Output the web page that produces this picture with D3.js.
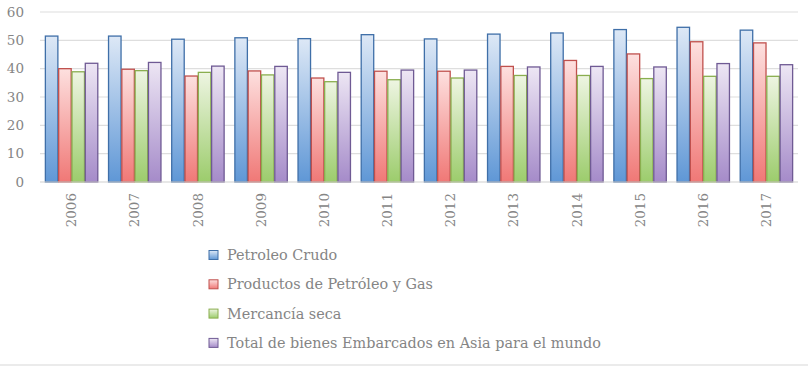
<!DOCTYPE html>
<html>
<head>
<meta charset="utf-8">
<script src="https://cdn.jsdelivr.net/npm/d3@7"></script>
<style>
  body { margin: 0; background: #fff; }
  text { font-family: "DejaVu Serif", "Liberation Serif", serif; fill: #858585; }
</style>
</head>
<body>
<script>
let w = 808;
let h = 366;

let years = ["2006", "2007", "2008", "2009", "2010", "2011", "2012", "2013", "2014", "2015", "2016", "2017"];
let seriesNames = ["Petroleo Crudo", "Productos de Petróleo y Gas", "Mercancía seca", "Total de bienes Embarcados en Asia para el mundo"];
let crudo = [51.5, 51.5, 50.4, 50.9, 50.6, 52.0, 50.5, 52.2, 52.6, 53.8, 54.6, 53.6];
let productos = [40.0, 39.8, 37.4, 39.2, 36.7, 39.1, 39.1, 40.8, 42.9, 45.2, 49.5, 49.1];
let seca = [38.9, 39.3, 38.7, 37.8, 35.4, 36.1, 36.7, 37.6, 37.6, 36.5, 37.3, 37.3];
let total = [41.9, 42.2, 40.9, 40.8, 38.7, 39.5, 39.5, 40.6, 40.8, 40.6, 41.8, 41.4];
let yTicks = [0, 10, 20, 30, 40, 50, 60];

let allSeries = [crudo, productos, seca, total];
let colors = [
  { top: "#dde8f6", bottom: "#5f97d6", stroke: "#3f6fa8" },
  { top: "#fde0df", bottom: "#f07876", stroke: "#c0504d" },
  { top: "#eef5e2", bottom: "#9ccc6c", stroke: "#8aae4f" },
  { top: "#ede6f4", bottom: "#a58bc9", stroke: "#6f5a94" }
];

let xScale = d3.scaleBand().domain(years).range([40, 798]).paddingInner(0.17).paddingOuter(0.085);
let xSub = d3.scaleBand().domain(d3.range(4)).range([0, xScale.bandwidth()]).paddingInner(0.06);
let yScale = d3.scaleLinear().domain([0, 60]).range([182, 12]);

let svg = d3.select("body").append("svg").attr("width", w).attr("height", h);

let defs = svg.append("defs");
colors.forEach((c, i) => {
  let g = defs.append("linearGradient").attr("id", "grad" + i)
    .attr("x1", 0).attr("y1", 0).attr("x2", 0).attr("y2", 1);
  g.append("stop").attr("offset", "0%").attr("stop-color", c.top);
  g.append("stop").attr("offset", "100%").attr("stop-color", c.bottom);
});

// grid lines
svg.append("g").selectAll("line")
  .data(yTicks.slice(1))
  .enter().append("line")
  .attr("x1", 40).attr("x2", 798)
  .attr("y1", d => yScale(d)).attr("y2", d => yScale(d))
  .attr("stroke", "#dedede").attr("stroke-width", 1.2);

// y axis labels
svg.append("g").selectAll("text")
  .data(yTicks)
  .enter().append("text")
  .attr("x", 24).attr("y", d => yScale(d))
  .attr("dy", "0.35em")
  .attr("text-anchor", "end")
  .attr("font-size", 13.5)
  .text(d => d);

// bars
allSeries.forEach((vals, si) => {
  svg.append("g").selectAll("rect")
    .data(vals)
    .enter().append("rect")
    .attr("x", (d, i) => xScale(years[i]) + xSub(si))
    .attr("y", d => yScale(d))
    .attr("width", xSub.bandwidth())
    .attr("height", d => yScale(0) - yScale(d))
    .attr("fill", "url(#grad" + si + ")")
    .attr("stroke", colors[si].stroke)
    .attr("stroke-width", 1.3);
});

// baseline
svg.append("line")
  .attr("x1", 40).attr("x2", 798)
  .attr("y1", yScale(0)).attr("y2", yScale(0))
  .attr("stroke", "#d0d0d0").attr("stroke-width", 1.2);

// x labels
svg.append("g").selectAll("text")
  .data(years)
  .enter().append("text")
  .attr("transform", d => "translate(" + (xScale(d) + xScale.bandwidth() / 2) + ",193) rotate(-90)")
  .attr("dy", "0.35em")
  .attr("text-anchor", "end")
  .attr("font-size", 13.5)
  .text(d => d);

// legend
let legend = svg.append("g").selectAll("g")
  .data(seriesNames)
  .enter().append("g")
  .attr("transform", (d, i) => "translate(209," + (255 + i * 29.3) + ")");

legend.append("rect")
  .attr("x", 0).attr("y", -4.5)
  .attr("width", 9).attr("height", 9)
  .attr("fill", (d, i) => "url(#grad" + i + ")")
  .attr("stroke", (d, i) => colors[i].stroke)
  .attr("stroke-width", 1);

legend.append("text")
  .attr("x", 18).attr("y", 0)
  .attr("dy", "0.35em")
  .attr("font-size", 14.4)
  .text(d => d);

// bottom rule
svg.append("line")
  .attr("x1", 0).attr("x2", w)
  .attr("y1", 365).attr("y2", 365)
  .attr("stroke", "#ebebeb").attr("stroke-width", 2);
</script>
</body>
</html>
